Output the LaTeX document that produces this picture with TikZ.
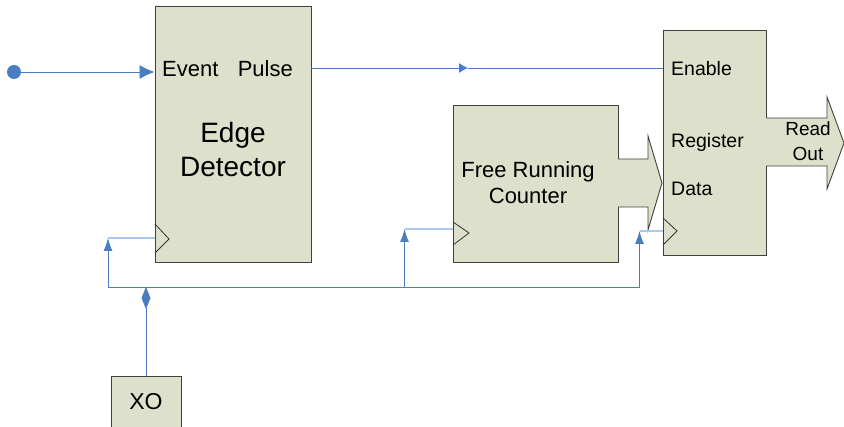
\documentclass[tikz,border=0pt]{standalone}
\usepackage{fontspec}
\setmainfont{Liberation Sans}
\usetikzlibrary{arrows.meta}
\definecolor{boxfill}{RGB}{221,224,202}
\definecolor{wire}{RGB}{74,126,193}
\definecolor{wirelight}{RGB}{170,200,238}

\begin{document}
\begin{tikzpicture}[x=1pt,y=-1pt,>=Latex,
    block/.style={draw=black!75,fill=boxfill,line width=0.9pt,inner sep=0pt},
    sig/.style={wire,line width=0.85pt},
    clkline/.style={wirelight,line width=1.3pt},
    clktri/.style={draw=black!80,line width=0.8pt},
    lbl/.style={inner sep=0pt}]
    \useasboundingbox (0,0) rectangle (844,427);
    \clip (0,0) rectangle (844,427);
    % blocks
    \node[block,minimum width=156pt,minimum height=256pt] (edge) at (233,134) {};
    \node[block,minimum width=165pt,minimum height=157pt] (cnt) at (535.5,183.5) {};
    \draw[block] (618,159) -- (648,159) -- (648,136) -- (662,183) -- (648,230) -- (648,207) -- (618,207);
    \node[block,minimum width=103pt,minimum height=225pt] (reg) at (714.5,142.5) {};
    \draw[block] (766,118) -- (827,118) -- (827,97) -- (844,143) -- (827,189) -- (827,166) -- (766,166);
    \node[block,minimum width=70pt,minimum height=64pt] (xo) at (146,408) {};
    % clock inputs
    \draw[clktri] (155,224) -- (169,239) -- (155,253);
    \draw[clktri] (453,222) -- (469,233) -- (453,245);
    \draw[clktri] (663,218) -- (677,231) -- (663,245);
    % texts
    \node[lbl,anchor=base west,font=\fontsize{22}{26}\selectfont] (event) at (162,77) {Event};
    \node[lbl,anchor=base east,font=\fontsize{22}{26}\selectfont] (pulse) at (293,77) {Pulse};
    \node[align=center,inner sep=0pt,font=\fontsize{28}{34}\selectfont] (edgetxt) at (233,149) {Edge\\Detector};
    \node[align=center,inner sep=0pt,font=\fontsize{22}{26}\selectfont] (cnttxt) at (528,183) {Free Running\\Counter};
    \node[lbl,anchor=base west,font=\fontsize{19.5}{24}\selectfont] (enable) at (671,76) {Enable};
    \node[lbl,anchor=base west,font=\fontsize{19.5}{24}\selectfont] (regtxt) at (671,148) {Register};
    \node[lbl,anchor=base west,font=\fontsize{19.5}{24}\selectfont] (data) at (671,196) {Data};
    \node[align=center,inner sep=0pt,font=\fontsize{19}{25}\selectfont] (readout) at (808,141.5) {Read\\Out};
    \node[lbl,anchor=base,font=\fontsize{23}{27}\selectfont] (xotxt) at (146,410) {XO};
    % signals
    \node[circle,fill=wire,minimum size=14pt,inner sep=0pt] (src) at (14,72) {};
    \draw[sig,-{Latex[length=15pt,width=14pt]}] (src) -- (edge.west |- src);
    \coordinate (mid) at (468,68);
    \draw[sig,-{Latex[length=9pt,width=10pt]}] (edge.east |- mid) -- (mid);
    \draw[sig] (mid) -- (reg.west |- mid);
    % clock bus
    \coordinate (busL) at (108,287);
    \coordinate (busC) at (404.5,287);
    \coordinate (busR) at (639.5,287);
    \coordinate (clkE) at (edge.west |- 0,238);
    \coordinate (clkC) at (cnt.west |- 0,229);
    \coordinate (clkR) at (reg.west |- 0,231);
    \draw[sig] (busL) -- (busR);
    \draw[sig,-{Latex[length=13pt,width=9pt]}] (busL) -- (busL |- clkE);
    \draw[clkline] (busL |- clkE) -- (clkE);
    \draw[sig,-{Latex[length=13pt,width=9pt]}] (busC) -- (busC |- clkC);
    \draw[clkline] (busC |- clkC) -- (clkC);
    \draw[sig,-{Latex[length=13pt,width=9pt]}] (busR) -- (busR |- clkR);
    \draw[clkline] (busR |- clkR) -- (clkR);
    \draw[sig,-{Diamond[length=22pt,width=9pt]}] (xo.north) -- (xo.north |- busL);
\end{tikzpicture}
\end{document}
